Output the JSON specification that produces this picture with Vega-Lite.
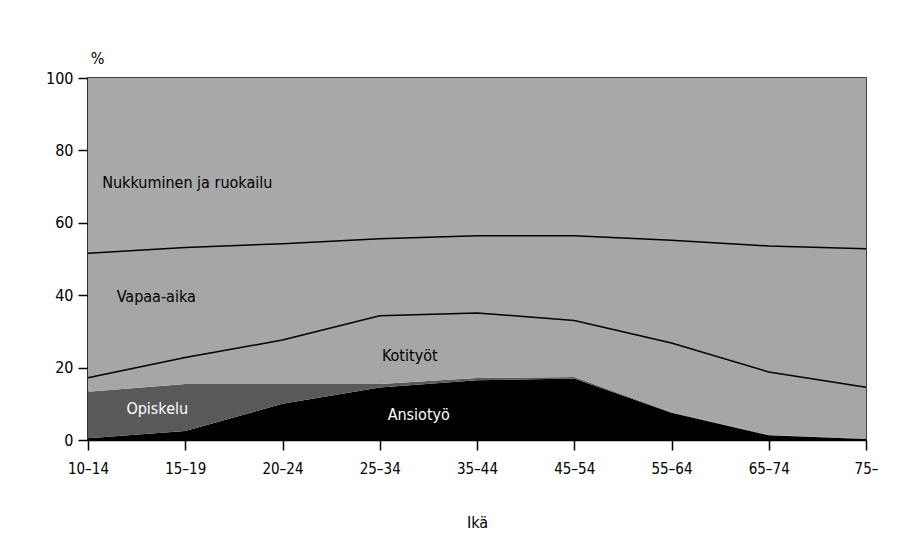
{
  "$schema": "https://vega.github.io/schema/vega-lite/v6.json",
  "width": 778,
  "height": 362,
  "autosize": "none",
  "padding": {"left": 88, "top": 78, "right": 44, "bottom": 114},
  "background": "white",
  "config": {
    "font": "DejaVu Sans Condensed, Liberation Sans Narrow, sans-serif",
    "view": {"stroke": "black", "strokeWidth": 1.5},
    "axis": {"grid": false, "domainColor": "black", "tickColor": "black", "labelColor": "black", "titleColor": "black", "domainWidth": 1.5, "tickWidth": 1.5}
  },
  "datasets": {
    "aika": [
      {"ika": "10–14", "luokka": "Ansiotyö", "j": 1, "osuus": 0.5},
      {"ika": "15–19", "luokka": "Ansiotyö", "j": 1, "osuus": 2.5},
      {"ika": "20–24", "luokka": "Ansiotyö", "j": 1, "osuus": 10},
      {"ika": "25–34", "luokka": "Ansiotyö", "j": 1, "osuus": 14.5},
      {"ika": "35–44", "luokka": "Ansiotyö", "j": 1, "osuus": 16.5},
      {"ika": "45–54", "luokka": "Ansiotyö", "j": 1, "osuus": 17},
      {"ika": "55–64", "luokka": "Ansiotyö", "j": 1, "osuus": 7.5},
      {"ika": "65–74", "luokka": "Ansiotyö", "j": 1, "osuus": 1.3},
      {"ika": "75–", "luokka": "Ansiotyö", "j": 1, "osuus": 0.3},
      {"ika": "10–14", "luokka": "Opiskelu", "j": 2, "osuus": 12.8},
      {"ika": "15–19", "luokka": "Opiskelu", "j": 2, "osuus": 13},
      {"ika": "20–24", "luokka": "Opiskelu", "j": 2, "osuus": 5.5},
      {"ika": "25–34", "luokka": "Opiskelu", "j": 2, "osuus": 1},
      {"ika": "35–44", "luokka": "Opiskelu", "j": 2, "osuus": 0.6},
      {"ika": "45–54", "luokka": "Opiskelu", "j": 2, "osuus": 0.4},
      {"ika": "55–64", "luokka": "Opiskelu", "j": 2, "osuus": 0.2},
      {"ika": "65–74", "luokka": "Opiskelu", "j": 2, "osuus": 0.1},
      {"ika": "75–", "luokka": "Opiskelu", "j": 2, "osuus": 0.1},
      {"ika": "10–14", "luokka": "Kotityöt", "j": 3, "osuus": 3.9},
      {"ika": "15–19", "luokka": "Kotityöt", "j": 3, "osuus": 7.3},
      {"ika": "20–24", "luokka": "Kotityöt", "j": 3, "osuus": 12.1},
      {"ika": "25–34", "luokka": "Kotityöt", "j": 3, "osuus": 18.8},
      {"ika": "35–44", "luokka": "Kotityöt", "j": 3, "osuus": 18.0},
      {"ika": "45–54", "luokka": "Kotityöt", "j": 3, "osuus": 15.6},
      {"ika": "55–64", "luokka": "Kotityöt", "j": 3, "osuus": 19.1},
      {"ika": "65–74", "luokka": "Kotityöt", "j": 3, "osuus": 17.4},
      {"ika": "75–", "luokka": "Kotityöt", "j": 3, "osuus": 14.2},
      {"ika": "10–14", "luokka": "Vapaa-aika", "j": 4, "osuus": 34.4},
      {"ika": "15–19", "luokka": "Vapaa-aika", "j": 4, "osuus": 30.4},
      {"ika": "20–24", "luokka": "Vapaa-aika", "j": 4, "osuus": 26.6},
      {"ika": "25–34", "luokka": "Vapaa-aika", "j": 4, "osuus": 21.3},
      {"ika": "35–44", "luokka": "Vapaa-aika", "j": 4, "osuus": 21.3},
      {"ika": "45–54", "luokka": "Vapaa-aika", "j": 4, "osuus": 23.4},
      {"ika": "55–64", "luokka": "Vapaa-aika", "j": 4, "osuus": 28.4},
      {"ika": "65–74", "luokka": "Vapaa-aika", "j": 4, "osuus": 34.8},
      {"ika": "75–", "luokka": "Vapaa-aika", "j": 4, "osuus": 38.2},
      {"ika": "10–14", "luokka": "Nukkuminen ja ruokailu", "j": 5, "osuus": 48.4},
      {"ika": "15–19", "luokka": "Nukkuminen ja ruokailu", "j": 5, "osuus": 46.8},
      {"ika": "20–24", "luokka": "Nukkuminen ja ruokailu", "j": 5, "osuus": 45.8},
      {"ika": "25–34", "luokka": "Nukkuminen ja ruokailu", "j": 5, "osuus": 44.4},
      {"ika": "35–44", "luokka": "Nukkuminen ja ruokailu", "j": 5, "osuus": 43.6},
      {"ika": "45–54", "luokka": "Nukkuminen ja ruokailu", "j": 5, "osuus": 43.6},
      {"ika": "55–64", "luokka": "Nukkuminen ja ruokailu", "j": 5, "osuus": 44.8},
      {"ika": "65–74", "luokka": "Nukkuminen ja ruokailu", "j": 5, "osuus": 46.4},
      {"ika": "75–", "luokka": "Nukkuminen ja ruokailu", "j": 5, "osuus": 47.2}
    ]
  },
  "layer": [
    {
      "data": {"name": "aika"},
      "mark": {"type": "area", "interpolate": "linear"},
      "encoding": {
        "x": {
          "field": "ika", "type": "ordinal",
          "scale": {"type": "point", "padding": 0},
          "sort": ["10–14", "15–19", "20–24", "25–34", "35–44", "45–54", "55–64", "65–74", "75–"],
          "axis": {"labelAngle": 0, "tickSize": 10, "labelFontSize": 15, "labelPadding": 11, "title": "Ikä", "titleFontSize": 16, "titleFontWeight": "normal", "titlePadding": 38}
        },
        "y": {
          "field": "osuus", "type": "quantitative", "stack": "zero",
          "scale": {"domain": [0, 100], "nice": false},
          "axis": {"values": [0, 20, 40, 60, 80, 100], "tickSize": 10, "labelFontSize": 16, "labelPadding": 5, "title": "%", "titleAngle": 0, "titleFontSize": 16, "titleFontWeight": "normal", "titleX": 9, "titleY": -12, "titleAlign": "center"}
        },
        "color": {
          "field": "luokka", "type": "nominal",
          "scale": {"domain": ["Ansiotyö", "Opiskelu", "Kotityöt", "Vapaa-aika", "Nukkuminen ja ruokailu"], "range": ["#000000", "#595959", "#a6a6a6", "#a6a6a6", "#a9a9a9"]},
          "legend": null
        },
        "order": {"field": "j", "type": "quantitative"}
      }
    },
    {
      "data": {"name": "aika"},
      "transform": [
        {"stack": "osuus", "groupby": ["ika"], "sort": [{"field": "j", "order": "ascending"}], "as": ["ala", "yla"]},
        {"filter": "datum.j == 3 || datum.j == 4"}
      ],
      "mark": {"type": "line", "color": "black", "strokeWidth": 1.5},
      "encoding": {
        "x": {"field": "ika", "type": "ordinal", "sort": ["10–14", "15–19", "20–24", "25–34", "35–44", "45–54", "55–64", "65–74", "75–"]},
        "y": {"field": "yla", "type": "quantitative"},
        "detail": {"field": "luokka"}
      }
    },
    {
      "data": {"values": [{"ika": "15–19", "osuus": 71, "teksti": "Nukkuminen ja ruokailu"}]},
      "mark": {"type": "text", "fontSize": 16, "color": "black", "dx": 2},
      "encoding": {"x": {"field": "ika", "type": "ordinal"}, "y": {"field": "osuus", "type": "quantitative"}, "text": {"field": "teksti"}}
    },
    {
      "data": {"values": [{"ika": "15–19", "osuus": 39.5, "teksti": "Vapaa-aika"}]},
      "mark": {"type": "text", "fontSize": 16, "color": "black", "dx": -29},
      "encoding": {"x": {"field": "ika", "type": "ordinal"}, "y": {"field": "osuus", "type": "quantitative"}, "text": {"field": "teksti"}}
    },
    {
      "data": {"values": [{"ika": "25–34", "osuus": 23.2, "teksti": "Kotityöt"}]},
      "mark": {"type": "text", "fontSize": 16, "color": "black", "dx": 30},
      "encoding": {"x": {"field": "ika", "type": "ordinal"}, "y": {"field": "osuus", "type": "quantitative"}, "text": {"field": "teksti"}}
    },
    {
      "data": {"values": [{"ika": "15–19", "osuus": 8.6, "teksti": "Opiskelu"}]},
      "mark": {"type": "text", "fontSize": 16, "color": "white", "dx": -28},
      "encoding": {"x": {"field": "ika", "type": "ordinal"}, "y": {"field": "osuus", "type": "quantitative"}, "text": {"field": "teksti"}}
    },
    {
      "data": {"values": [{"ika": "25–34", "osuus": 6.9, "teksti": "Ansiotyö"}]},
      "mark": {"type": "text", "fontSize": 16, "color": "white", "dx": 39},
      "encoding": {"x": {"field": "ika", "type": "ordinal"}, "y": {"field": "osuus", "type": "quantitative"}, "text": {"field": "teksti"}}
    }
  ]
}
